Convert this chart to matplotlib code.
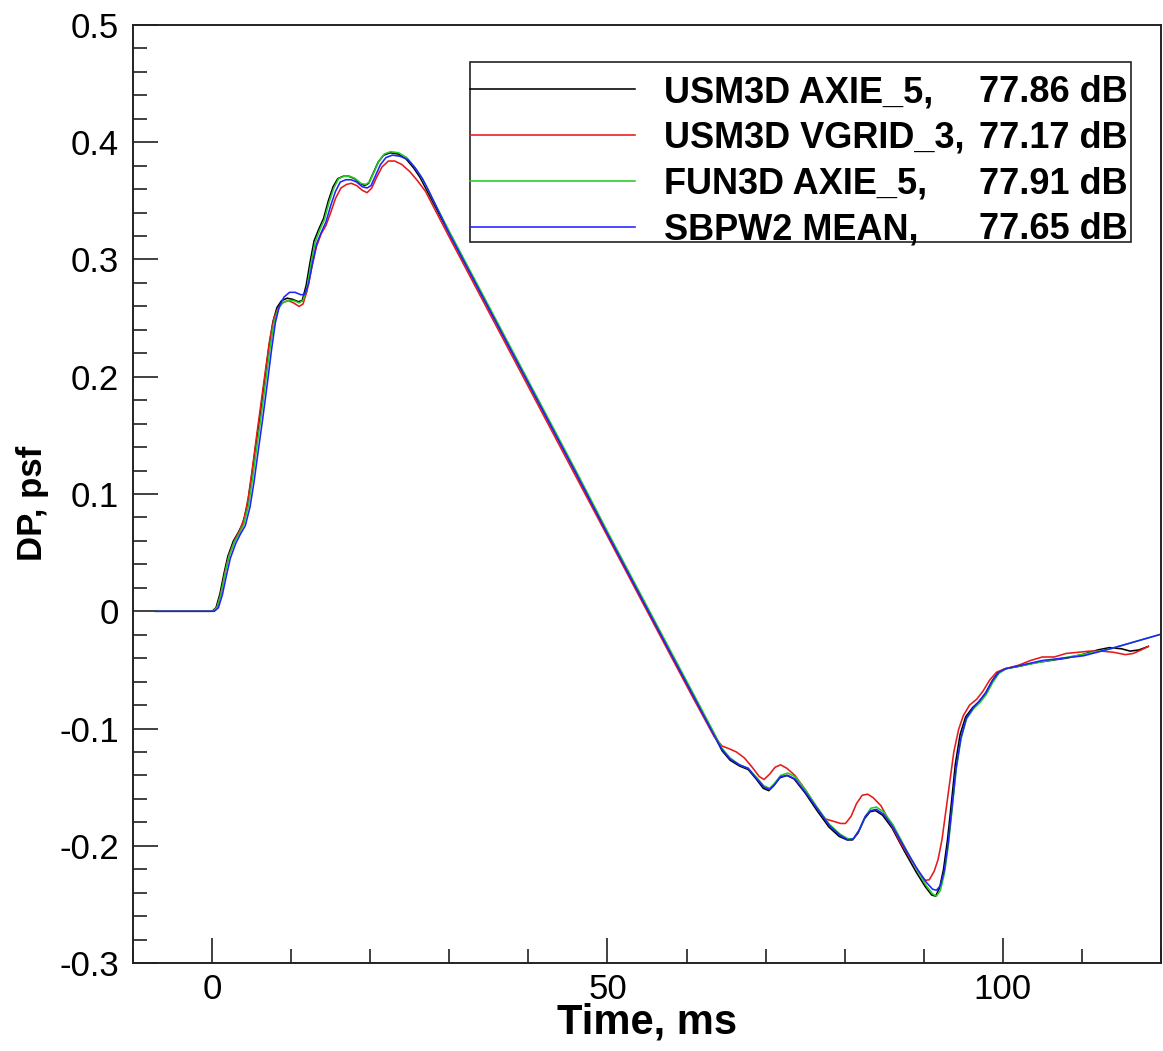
import matplotlib
matplotlib.use("Agg")
import matplotlib.pyplot as plt
from matplotlib import font_manager
from matplotlib.ticker import MultipleLocator, FuncFormatter
from matplotlib.lines import Line2D
from matplotlib.patches import Rectangle

# ---------------- data ----------------
t_usm_axie = [-7.2, 0.0, 0.5, 1.0, 1.5, 2.0, 2.7, 3.3, 3.9, 4.5, 5.0, 5.5, 6.1, 6.7, 7.2, 7.7,
              8.2, 8.8, 9.5, 10.2, 10.9, 11.4, 11.9, 12.4, 12.9, 13.5, 14.1, 14.7, 15.3, 15.9,
              16.6, 17.3, 18.0, 18.7, 19.3, 19.8, 20.4, 21.0, 21.7, 22.5, 23.5, 24.5, 25.5,
              26.3, 27.0, 30.0, 34.0, 38.0, 42.0, 46.0, 50.0, 54.0, 58.0, 61.0, 63.5, 64.5,
              65.5, 66.7, 67.8, 68.8, 69.7, 70.4, 71.0, 71.8, 72.7, 73.6, 75.0, 76.5, 78.0,
              79.3, 80.3, 81.0, 81.7, 82.5, 83.2, 83.9, 84.8, 86.0, 87.5, 89.0, 90.2, 91.0,
              91.5, 92.0, 92.5, 93.0, 93.5, 94.0, 94.6, 95.3, 96.2, 97.0, 97.8, 98.6, 99.4,
              100.3, 102.0, 104.0, 106.0, 108.0, 110.0, 112.0, 113.5, 115.0, 116.1, 117.2, 118.4]
dp_usm_axie = [0.0, 0.0, 0.003, 0.015, 0.032, 0.047, 0.060, 0.067, 0.075, 0.092, 0.115, 0.140, 0.169,
               0.200, 0.226, 0.247, 0.259, 0.265, 0.267, 0.266, 0.264, 0.265, 0.278, 0.298, 0.316,
               0.326, 0.335, 0.350, 0.362, 0.369, 0.371, 0.371, 0.369, 0.365, 0.363, 0.365, 0.374,
               0.383, 0.389, 0.391, 0.390, 0.386, 0.378, 0.370, 0.361, 0.322, 0.271, 0.220, 0.169,
               0.118, 0.066, 0.015, -0.036, -0.074, -0.106, -0.119, -0.127, -0.132, -0.135, -0.143,
               -0.151, -0.153, -0.149, -0.142, -0.140, -0.143, -0.155, -0.170, -0.184, -0.192,
               -0.195, -0.195, -0.189, -0.177, -0.171, -0.170, -0.174, -0.185, -0.204, -0.222,
               -0.235, -0.242, -0.243, -0.236, -0.220, -0.195, -0.163, -0.130, -0.105, -0.090,
               -0.082, -0.077, -0.070, -0.060, -0.052, -0.049, -0.047, -0.044, -0.042, -0.040,
               -0.037, -0.033, -0.031, -0.032, -0.034, -0.033, -0.030]

t_usm_vgrid = [-7.2, 0.2, 0.7, 1.2, 1.7, 2.2, 2.9, 3.5, 4.1, 4.6, 5.1, 5.6, 6.2, 6.8, 7.3, 7.8,
               8.3, 8.9, 9.6, 10.3, 11.0, 11.5, 12.0, 12.6, 13.2, 13.8, 14.4, 15.0, 15.6, 16.3,
               17.0, 17.6, 18.3, 19.0, 19.6, 20.2, 20.8, 21.5, 22.3, 23.1, 24.0, 25.0, 26.0,
               27.0, 30.0, 34.0, 38.0, 42.0, 46.0, 50.0, 54.0, 58.0, 61.0, 63.5, 64.5, 65.3,
               66.3, 67.3, 68.3, 69.2, 69.8, 70.5, 71.2, 71.9, 72.7, 73.7, 75.0, 76.3, 77.5,
               78.5, 79.5, 80.1, 80.8, 81.5, 82.2, 82.9, 83.6, 84.6, 85.8, 87.2, 88.5, 89.5,
               90.2, 90.7, 91.3, 91.8, 92.3, 92.8, 93.3, 93.8, 94.4, 95.0, 95.8, 96.7, 97.5,
               98.3, 99.2, 100.3, 102.0, 103.5, 105.0, 106.5, 108.0, 109.5, 111.0, 112.5,
               114.0, 115.5, 116.5, 117.5, 118.4]
dp_usm_vgrid = [0.0, 0.0, 0.004, 0.018, 0.035, 0.049, 0.061, 0.069, 0.080, 0.098, 0.122, 0.148,
                0.178, 0.208, 0.232, 0.249, 0.258, 0.263, 0.265, 0.263, 0.260, 0.262, 0.273,
                0.293, 0.311, 0.322, 0.329, 0.340, 0.352, 0.361, 0.364, 0.365, 0.363, 0.359,
                0.357, 0.361, 0.370, 0.379, 0.384, 0.384, 0.381, 0.375, 0.367, 0.358, 0.319,
                0.268, 0.217, 0.166, 0.115, 0.064, 0.013, -0.038, -0.076, -0.107, -0.115,
                -0.117, -0.120, -0.125, -0.133, -0.141, -0.1435, -0.139, -0.133, -0.131,
                -0.134, -0.140, -0.152, -0.166, -0.177, -0.179, -0.181, -0.181, -0.175,
                -0.164, -0.157, -0.156, -0.159, -0.166, -0.181, -0.199, -0.213, -0.224,
                -0.2295, -0.229, -0.222, -0.212, -0.195, -0.170, -0.145, -0.120, -0.101,
                -0.089, -0.080, -0.075, -0.068, -0.059, -0.052, -0.049, -0.046, -0.042,
                -0.039, -0.039, -0.036, -0.035, -0.034, -0.034, -0.035, -0.037, -0.036,
                -0.033, -0.030]

t_fun_axie = [-7.2, 0.1, 0.6, 1.1, 1.6, 2.1, 2.8, 3.4, 4.0, 4.6, 5.1, 5.6, 6.2, 6.8, 7.3, 7.8,
              8.3, 8.9, 9.6, 10.3, 11.0, 11.5, 12.0, 12.5, 13.0, 13.6, 14.2, 14.8, 15.4, 16.0,
              16.7, 17.4, 18.1, 18.8, 19.4, 19.9, 20.5, 21.1, 21.8, 22.6, 23.6, 24.6, 25.6,
              26.4, 27.1, 30.0, 34.0, 38.0, 42.0, 46.0, 50.0, 54.0, 58.0, 61.0, 63.5, 64.5,
              65.5, 66.7, 67.8, 68.9, 69.8, 70.5, 71.1, 71.9, 72.8, 73.7, 75.1, 76.6, 78.1,
              79.4, 80.4, 81.1, 81.8, 82.6, 83.3, 84.0, 84.9, 86.1, 87.6, 89.1, 90.3, 91.1,
              91.6, 92.1, 92.6, 93.1, 93.6, 94.1, 94.7, 95.4, 96.3, 97.1, 97.9, 98.7, 99.5,
              100.4, 105.0, 110.0, 113.6, 120.3]
dp_fun_axie = [0.0, 0.0, 0.003, 0.014, 0.031, 0.046, 0.059, 0.066, 0.074, 0.090, 0.112, 0.137,
               0.166, 0.197, 0.223, 0.245, 0.257, 0.263, 0.265, 0.265, 0.263, 0.265, 0.276,
               0.296, 0.314, 0.325, 0.334, 0.349, 0.361, 0.369, 0.371, 0.371, 0.369, 0.365,
               0.364, 0.366, 0.375, 0.384, 0.390, 0.392, 0.391, 0.387, 0.379, 0.371, 0.362,
               0.324, 0.273, 0.222, 0.171, 0.120, 0.068, 0.017, -0.034, -0.072, -0.104,
               -0.117, -0.125, -0.131, -0.134, -0.142, -0.149, -0.151, -0.147, -0.140, -0.138,
               -0.141, -0.153, -0.168, -0.182, -0.190, -0.194, -0.194, -0.187, -0.175, -0.168,
               -0.167, -0.171, -0.182, -0.201, -0.220, -0.234, -0.241, -0.243, -0.238, -0.224,
               -0.200, -0.168, -0.135, -0.109, -0.092, -0.083, -0.078, -0.071, -0.061, -0.053,
               -0.049, -0.043, -0.037, -0.032, -0.019]

t_sbpw2_mean = [-7.2, 0.3, 0.8, 1.3, 1.8, 2.3, 3.0, 3.6, 4.2, 4.8, 5.3, 5.8, 6.4, 7.0, 7.5, 8.0,
                8.5, 9.1, 9.8, 10.5, 11.2, 11.7, 12.2, 12.7, 13.2, 13.8, 14.4, 15.0, 15.6, 16.2,
                16.9, 17.6, 18.3, 19.0, 19.6, 20.1, 20.7, 21.3, 22.0, 22.8, 23.8, 24.8, 25.8,
                26.6, 27.3, 30.0, 34.0, 38.0, 42.0, 46.0, 50.0, 54.0, 58.0, 61.0, 63.5, 64.5,
                65.5, 66.7, 67.8, 68.9, 69.8, 70.5, 71.1, 71.9, 72.8, 73.7, 75.1, 76.6, 78.1,
                79.4, 80.4, 81.1, 81.8, 82.6, 83.3, 84.0, 84.9, 86.1, 87.6, 89.1, 90.3, 91.1,
                91.6, 92.1, 92.6, 93.1, 93.6, 94.1, 94.7, 95.4, 96.3, 97.1, 97.9, 98.7, 99.5,
                100.4, 105.0, 110.2, 113.6, 120.3]
dp_sbpw2_mean = [0.0, 0.0, 0.003, 0.014, 0.030, 0.045, 0.058, 0.066, 0.073, 0.089, 0.110, 0.135,
                 0.164, 0.195, 0.222, 0.246, 0.260, 0.268, 0.272, 0.272, 0.270, 0.270, 0.279,
                 0.297, 0.313, 0.323, 0.332, 0.346, 0.358, 0.366, 0.368, 0.368, 0.366, 0.362,
                 0.361, 0.363, 0.372, 0.381, 0.387, 0.389, 0.388, 0.385, 0.377, 0.369, 0.360,
                 0.322, 0.271, 0.220, 0.169, 0.118, 0.066, 0.015, -0.036, -0.074, -0.106,
                 -0.118, -0.126, -0.131, -0.134, -0.143, -0.150, -0.152, -0.148, -0.141,
                 -0.140, -0.143, -0.155, -0.169, -0.183, -0.191, -0.195, -0.194, -0.187,
                 -0.175, -0.170, -0.169, -0.173, -0.184, -0.202, -0.219, -0.231, -0.237,
                 -0.238, -0.234, -0.221, -0.197, -0.165, -0.133, -0.108, -0.091, -0.082,
                 -0.076, -0.069, -0.059, -0.052, -0.049, -0.042, -0.038, -0.032, -0.019]

series_names = ["USM3D AXIE_5,", "USM3D VGRID_3,", "FUN3D AXIE_5,", "SBPW2 MEAN,"]
series_db = ["77.86 dB", "77.17 dB", "77.91 dB", "77.65 dB"]
series_colors = ["#000000", "#e41a1c", "#22cc22", "#2222ff"]
series_t = [t_usm_axie, t_usm_vgrid, t_fun_axie, t_sbpw2_mean]
series_dp = [dp_usm_axie, dp_usm_vgrid, dp_fun_axie, dp_sbpw2_mean]

x_label = "Time, ms"
y_label = "DP, psf"

# ---------------- fonts ----------------
names = {f.name for f in font_manager.fontManager.ttflist}
base_font = "Liberation Sans" if "Liberation Sans" in names else "DejaVu Sans"
plt.rcParams["font.family"] = [base_font, "DejaVu Sans"]
plt.rcParams["axes.unicode_minus"] = False

W, H = 1163, 1051
AX_L, AX_R, AX_T, AX_B = 133, 1161, 25, 963
fig = plt.figure(figsize=(W / 100, H / 100), dpi=100)
ax = fig.add_axes([AX_L / W, 1 - AX_B / H, (AX_R - AX_L) / W, (AX_B - AX_T) / H])


def px_to_ax(px, py):
    return (px - AX_L) / (AX_R - AX_L), (AX_B - py) / (AX_B - AX_T)


for t, dp, c, n in zip(series_t, series_dp, series_colors, series_names):
    ax.plot(t, dp, color=c, lw=1.15, label=n, solid_joinstyle="round")

ax.set_xlim(-10, 120)
ax.set_ylim(-0.3, 0.5)
ax.xaxis.set_major_locator(MultipleLocator(50))
ax.xaxis.set_minor_locator(MultipleLocator(10))
ax.yaxis.set_major_locator(MultipleLocator(0.1))
ax.yaxis.set_minor_locator(MultipleLocator(0.02))
ax.yaxis.set_major_formatter(FuncFormatter(lambda v, p: "0" if abs(v) < 1e-9 else f"{v:.1f}"))
ax.xaxis.set_major_formatter(FuncFormatter(lambda v, p: f"{v:.0f}"))

ax.tick_params(which="both", direction="in", colors="#333333", width=1.3,
               top=False, right=False, labelcolor="black", labelsize=25)
ax.tick_params(which="major", length=18)
ax.tick_params(which="minor", length=10)
ax.tick_params(axis="y", pad=10)
ax.tick_params(axis="x", pad=7)
for s in ax.spines.values():
    s.set_linewidth(1.4)
    s.set_color("#222222")

ax.set_xlabel(x_label, fontsize=30, fontweight="bold")
ax.xaxis.set_label_coords(0.5, px_to_ax(0, 1003)[1])
ax.set_ylabel(y_label, fontsize=25, fontweight="bold")
ax.yaxis.set_label_coords(px_to_ax(49, 0)[0], 0.49)

# legend frame (square box as in the reference)
lx0, ly0 = px_to_ax(470, 242)
lx1, ly1 = px_to_ax(1131, 62)
ax.add_patch(Rectangle((lx0, ly0), lx1 - lx0, ly1 - ly0, transform=ax.transAxes,
                       facecolor="white", edgecolor="#222222", lw=1.2, zorder=5))

LEG_FS = 26
handles = [Line2D([], [], color=c, lw=1.15) for c in series_colors]
bx0, by_top = px_to_ax(470, 75)
bx1, by_bot = px_to_ax(1131, 242)
leg = ax.legend(handles, series_names, loc="upper left",
                bbox_to_anchor=(bx0, by_bot, bx1 - bx0, by_top - by_bot),
                mode="expand", frameon=False, borderpad=0, borderaxespad=0,
                handlelength=165 / (LEG_FS * 100 / 72), handletextpad=0.8,
                labelspacing=0.30,
                prop={"weight": "bold", "size": LEG_FS})
leg.set_zorder(6)

fig.canvas.draw()
inv = ax.transAxes.inverted()
x_right = inv.transform((1128, 0))[0]
for txt, db in zip(leg.get_texts(), series_db):
    bb = txt.get_window_extent()
    yc = inv.transform((0, (bb.y0 + bb.y1) / 2))[1]
    ax.text(x_right, yc, db, transform=ax.transAxes, ha="right", va="center",
            fontsize=LEG_FS, fontweight="bold", zorder=10)

fig.savefig("out.png", dpi=100)
